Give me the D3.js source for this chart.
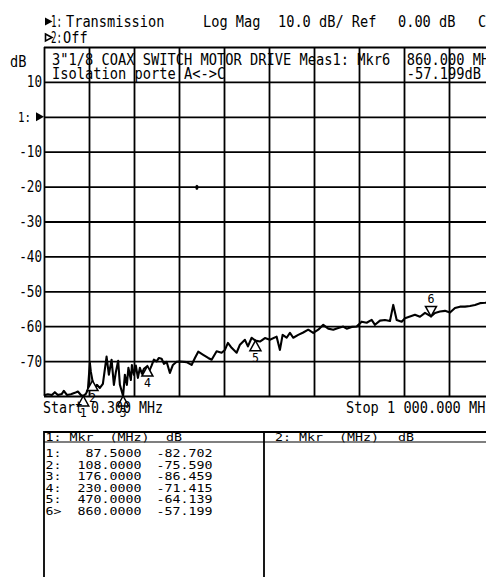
<!DOCTYPE html>
<html><head><meta charset="utf-8">
<script src="https://cdn.jsdelivr.net/npm/d3@7"></script>
<style>html,body{margin:0;padding:0;background:#fff;overflow:hidden}</style>
</head><body>
<svg id="c" width="486" height="577"></svg>
<script>
// ---------- data ----------
const traceFreq = [0.3,8.9,17.8,24.4,31.1,40.0,44.4,51.1,60.0,68.9,75.6,82.2,87.5,93.3,97.8,102.2,104.4,108,111.1,117.8,124.4,131.1,139.3,144.4,150.4,155.6,160.0,165.1,168.9,176,180,184.4,187.8,193.3,195.6,200,204.4,208.9,213.3,217.8,222.2,230,233.3,239.3,244.4,250.4,255.6,261.6,266.7,272.7,280,286.7,294.9,302.2,317.1,328.2,335.6,342.9,354,365.1,372.7,383.8,394.9,402.2,408.9,417.1,428.2,435.6,446.7,453.3,461.6,470,480,491.1,502.2,517.1,524.4,530.4,539.3,546.7,554,565.1,576.2,587.3,598.4,609.6,620.7,631.8,642.9,654,665.1,672.7,683.8,694.9,706,717.1,728.2,735.6,746.7,757.8,768.9,776.2,783.8,794.9,802.2,813.3,824.4,835.6,846.7,860,868.9,880,891.1,902.2,913.3,924.4,935.6,946.7,957.8,968.9,980,1000];
const traceDb = [-79.8,-79.5,-79.7,-78.9,-79.7,-79.4,-78.5,-79.7,-79.5,-79.1,-78.7,-79.7,-82.702,-79.4,-78.2,-70.5,-73.1,-75.59,-78.2,-76.8,-77.7,-76.5,-68.7,-73.9,-69.6,-76.8,-73.1,-69.9,-76.8,-86.459,-73.9,-76.8,-71.9,-75.4,-71.1,-73.9,-71.3,-74.8,-71.9,-73.6,-72.2,-71.415,-73.1,-71.3,-69.6,-70.1,-69.1,-69.3,-70.8,-70.2,-73.4,-71.1,-70.2,-70.1,-70.3,-71.1,-69.1,-67.3,-68.2,-69.1,-69.6,-67.2,-67.6,-66.8,-64.8,-66.2,-67.6,-65.3,-63.9,-65.8,-63.3,-64.139,-64.4,-63.4,-63.9,-63.0,-66.8,-62.5,-63.3,-61.9,-63.3,-62.5,-61.8,-61.0,-61.9,-61.0,-59.6,-60.7,-61.0,-60.5,-60.1,-60.7,-60.2,-60.1,-58.7,-59.0,-58.2,-59.6,-58.4,-58.2,-58.5,-53.9,-58.2,-58.7,-57.7,-57.2,-56.7,-57.3,-56.2,-57.199,-56.2,-55.8,-55.6,-56.1,-54.8,-54.4,-54.4,-54.2,-53.9,-53.4,-53.3,-53.0];

const markerIds = ["1","2","3","4","5","6"];
const markerFreq = [87.5,108,176,230,470,860];
const markerDb = [-82.702,-75.590,-86.459,-71.415,-64.139,-57.199];
const activeMarker = "6";

const yTickValues = [10,0,-10,-20,-30,-40,-50,-60,-70];
const yTickLabels = ["10","1:","-10","-20","-30","-40","-50","-60","-70"];
const startFreq = 0.3, stopFreq = 1000;
const topDb = 20, bottomDb = -80;
const divisions = 10;

const headerTexts = ["1:", "Transmission", "Log Mag", "10.0 dB/ Ref", "0.00 dB", "C"];
const header2Texts = ["2:", "Off"];
const titleLine1 = ['3"1/8 COAX SWITCH MOTOR DRIVE', "Meas1: Mkr6", "860.000 MHz"];
const titleLine2 = ["Isolation porte A<->C", "-57.199dB"];
const startLabel = "Start 0.300 MHz";
const stopLabel = "Stop 1 000.000 MHz";
const tableHeaders = ["1: Mkr  (MHz)", "dB", "2: Mkr  (MHz)", "dB"];
const artifactFreq = [340], artifactDb = [-20.2];

// ---------- drawing ----------
const svg = d3.select("#c");
const FONT = "DejaVu Sans Mono";
const L = 44, R = 494, T = 47, B = 396;
const x = d3.scaleLinear().domain([startFreq, stopFreq]).range([L, R]);
const y = d3.scaleLinear().domain([bottomDb, topDb]).range([B, T]).clamp(true);

function txt(g, xs, ys, s, size, adv, anchor) {
  const w = s.length * adv;
  let x0 = xs;
  if (anchor === "end") x0 = xs - w;
  if (anchor === "middle") x0 = xs - w / 2;
  return g.append("text").attr("x", x0).attr("y", ys)
    .attr("font-family", FONT).attr("font-size", size)
    .attr("textLength", w).attr("lengthAdjust", "spacingAndGlyphs")
    .style("white-space", "pre").attr("fill", "#000").text(s);
}

// grid
const gridVals = d3.range(divisions + 1).map(i => startFreq + i * (stopFreq - startFreq) / divisions);
const dbGridVals = d3.range(divisions + 1).map(i => topDb - i * (topDb - bottomDb) / divisions);
const gx = svg.append("g").attr("transform", `translate(0,${B})`)
  .call(d3.axisBottom(x).tickValues(gridVals).tickSize(-(B - T)).tickFormat(""));
const gy = svg.append("g").attr("transform", `translate(${L},0)`)
  .call(d3.axisLeft(y).tickValues(dbGridVals).tickSize(-(R - L)).tickFormat(""));
[gx, gy].forEach(g => {
  g.select(".domain").remove();
  g.selectAll("line").attr("stroke", "#000").attr("stroke-width", 1.8);
});

// y labels
yTickValues.forEach((v, i) => {
  const lab = yTickLabels[i];
  if (lab === "1:") {
    txt(svg, 18, y(v) + 5, lab, 14, 6.5, "start");
    svg.append("path").attr("d", `M${L - 8},${y(v) - 4.5}L${L},${y(v)}L${L - 8},${y(v) + 4.5}Z`).attr("fill", "#000");
  } else {
    txt(svg, 42, y(v) + 5.5, lab, 15, 7.6, "end");
  }
});
txt(svg, 10, 66.5, "dB", 15, 8.2, "start");

// header lines
svg.append("path").attr("d", "M45,17.5L52.5,21.5L45,25.5Z").attr("fill", "#000");
txt(svg, 51, 26.5, headerTexts[0], 15, 5.5, "start");
txt(svg, 66, 26.5, headerTexts[1], 15, 8.2, "start");
txt(svg, 203, 26.5, headerTexts[2], 15, 8.2, "start");
txt(svg, 278, 26.5, headerTexts[3], 15, 8.2, "start");
txt(svg, 398, 26.5, headerTexts[4], 15, 8.2, "start");
txt(svg, 478, 26.5, headerTexts[5], 15, 8.2, "start");
svg.append("path").attr("d", "M45.5,34L52,37.5L45.5,41Z").attr("fill", "#fff").attr("stroke", "#000").attr("stroke-width", 1.6);
txt(svg, 51, 42.5, header2Texts[0], 15, 5.5, "start");
txt(svg, 63, 42.5, header2Texts[1], 15, 8.2, "start");

// title inside top row
const cw = 8.25, tx0 = 52;
txt(svg, tx0, 65, titleLine1[0], 15, cw, "start");
txt(svg, tx0 + 30 * cw, 65, titleLine1[1], 15, cw, "start");
txt(svg, tx0 + 43 * cw, 65, titleLine1[2], 15, cw, "start");
txt(svg, tx0, 79, titleLine2[0], 15, cw, "start");
txt(svg, tx0 + 43 * cw, 79, titleLine2[1], 15, cw, "start");

// trace
const pts = traceFreq.map((f, i) => ({ f, db: traceDb[i] }));
svg.append("path").datum(pts)
  .attr("d", d3.line().x(d => x(d.f)).y(d => y(d.db)))
  .attr("fill", "none").attr("stroke", "#000").attr("stroke-width", 2.1).attr("stroke-linejoin", "round");

// artifact dot
artifactFreq.forEach((f, i) => {
  svg.append("ellipse").attr("cx", x(f)).attr("cy", y(artifactDb[i])).attr("rx", 1.6).attr("ry", 2.6).attr("fill", "#000");
});

// markers
markerIds.forEach((id, i) => {
  const mx = x(markerFreq[i]), my = y(markerDb[i]);
  if (id === activeMarker) {
    svg.append("path").attr("d", `M${mx},${my}L${mx - 5.5},${my - 10}L${mx + 5.5},${my - 10}Z`)
      .attr("fill", "#fff").attr("stroke", "#000").attr("stroke-width", 1.5);
    txt(svg, mx, my - 13.5, id, 13, 7, "middle");
  } else {
    svg.append("path").attr("d", `M${mx},${my}L${mx - 5.5},${my + 10}L${mx + 5.5},${my + 10}Z`)
      .attr("fill", "#fff").attr("stroke", "#000").attr("stroke-width", 1.5);
    txt(svg, mx, my + 21, id, 13, 7, "middle");
  }
});

// start/stop
txt(svg, 43, 413, startLabel, 15, 8.0, "start");
txt(svg, 346, 413, stopLabel, 15, 8.2, "start");

// table
const tTop = 432, tDiv = 264, tRight = 490;
svg.append("path").attr("d", `M${L},590V${tTop}H${tRight}M${tDiv},${tTop}V590`)
  .attr("fill", "none").attr("stroke", "#000").attr("stroke-width", 1.8);
svg.append("line").attr("x1", L).attr("x2", tRight).attr("y1", 442).attr("y2", 442)
  .attr("stroke", "#000").attr("stroke-width", 1.2);
const tfs = 11.2, tadv = 8.0;
txt(svg, 45.5, 441, tableHeaders[0], tfs, tadv, "start");
txt(svg, 166, 441, tableHeaders[1], tfs, tadv, "start");
txt(svg, 275, 441, tableHeaders[2], tfs, tadv, "start");
txt(svg, 398, 441, tableHeaders[3], tfs, tadv, "start");
markerIds.forEach((id, i) => {
  const by = 457 + i * 11.6;
  txt(svg, 45.5, by, id + (id === activeMarker ? ">" : ":"), tfs, tadv, "start");
  txt(svg, 141.5, by, markerFreq[i].toFixed(4), tfs, tadv, "end");
  txt(svg, 156.5, by, markerDb[i].toFixed(3), tfs, tadv, "start");
});
</script>
</body></html>
